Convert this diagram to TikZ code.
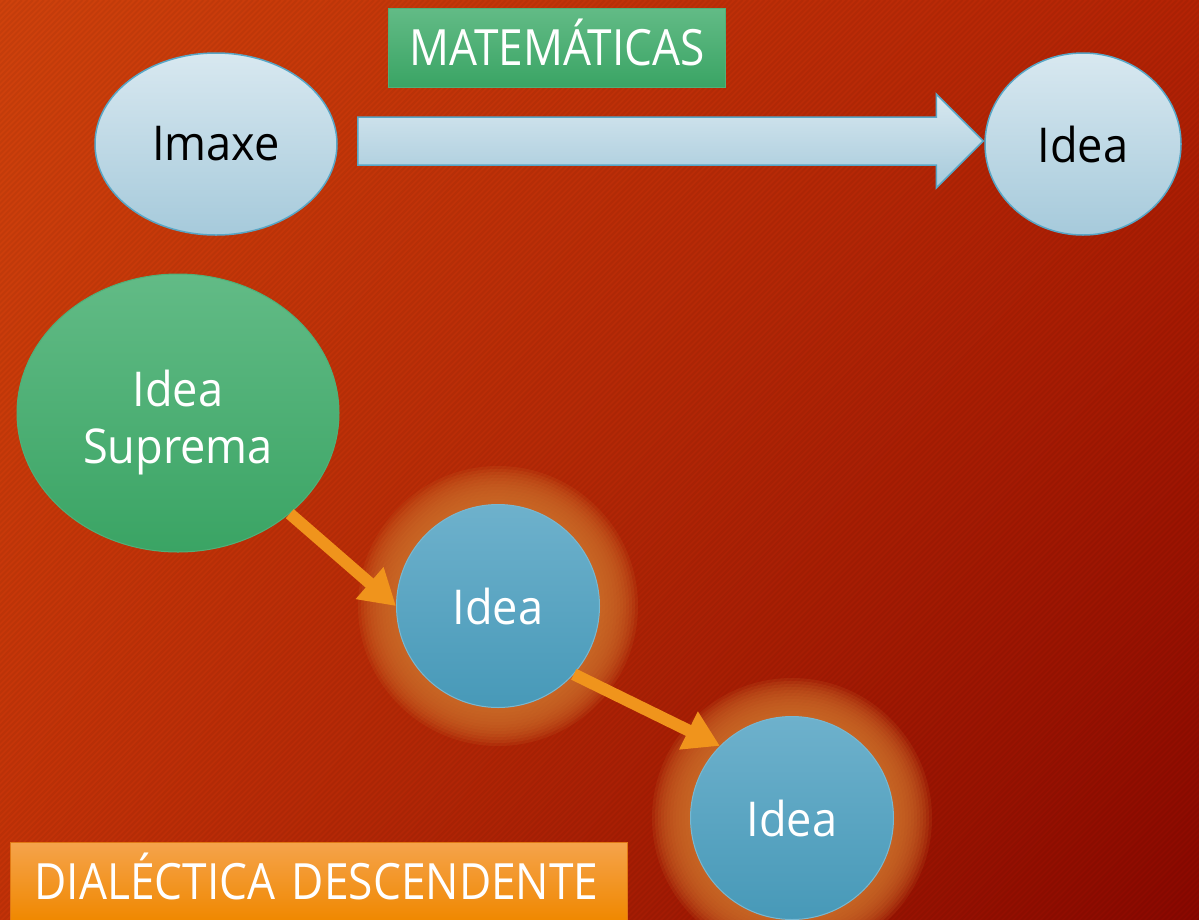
\documentclass[tikz,border=0pt]{standalone}
\usepackage{fontspec}
\setmainfont{Open Sans}
\newfontfamily\bodyfont[FakeStretch=0.94]{Open Sans}
\newfontfamily\capfont[FakeStretch=0.885]{Open Sans}
\usetikzlibrary{shapes.geometric,arrows.meta,calc,shadings}
\definecolor{bgUL}{RGB}{207,66,12}
\definecolor{bgUR}{RGB}{180,35,5}
\definecolor{bgLL}{RGB}{195,50,8}
\definecolor{bgLR}{RGB}{138,8,0}
\definecolor{ltblueT}{RGB}{216,232,240}
\definecolor{ltblueB}{RGB}{166,202,219}
\definecolor{blueline}{RGB}{88,166,198}
\definecolor{greenT}{RGB}{98,187,134}
\definecolor{greenB}{RGB}{58,164,100}
\definecolor{greenline}{RGB}{80,176,120}
\definecolor{blueT}{RGB}{110,177,204}
\definecolor{blueB}{RGB}{71,153,184}
\definecolor{arrowor}{RGB}{240,148,28}
\definecolor{glowcol}{RGB}{205,110,42}
\definecolor{orT}{RGB}{245,163,75}
\definecolor{orB}{RGB}{240,136,0}
\definecolor{orline}{RGB}{226,120,20}
\tikzset{
  lightnode/.style={ellipse, inner sep=0pt, top color=ltblueT, bottom color=ltblueB,
    draw=blueline, line width=1.5pt, text=black, font=\bodyfont\fontsize{48}{58}\selectfont},
  greennode/.style={ellipse, inner sep=0pt, top color=greenT, bottom color=greenB,
    draw=greenline, line width=1pt, text=white, align=center,
    font=\bodyfont\fontsize{48}{57}\selectfont},
  bluenode/.style={circle, inner sep=0pt, minimum size=203pt, top color=blueT, bottom color=blueB,
    draw=blueline!80!white, line width=1pt, text=white, font=\bodyfont\fontsize{48}{58}\selectfont},
  glowring/.style={fill=glowcol, fill opacity=0.16},
  stripe/.style={draw=black, draw opacity=0.05, line width=2pt},
  conn/.style={draw=arrowor, line width=12pt, -{Triangle[length=35pt,width=40pt]}},
  bigarrow/.style={top color=ltblueT, bottom color=ltblueB, draw=blueline, line width=1.5pt},
  captiongreen/.style={anchor=north west, inner sep=0pt, minimum width=337pt, minimum height=79pt,
    text depth=12pt,
    top color=greenT, bottom color=greenB, draw=greenline, line width=1pt, text=white,
    font=\capfont\fontsize{50}{60}\selectfont},
  captionorange/.style={anchor=north west, inner ysep=0pt, inner xsep=24pt, text width=569pt,
    align=left, minimum height=78pt, text depth=10pt,
    top color=orT, bottom color=orB, draw=orline, line width=1pt, text=white,
    font=\capfont\fontsize{50}{60}\selectfont}
}
\begin{document}
\begin{tikzpicture}[x=1pt,y=-1pt]
\useasboundingbox (0,0) rectangle (1199,919);
\clip (0,0) rectangle (1199,919);
% background
\shade[upper left=bgUL, upper right=bgUR, lower left=bgLL, lower right=bgLR] (0,0) rectangle (1199,919);
\foreach \x in {-925,-919.5,...,1205} {\draw[stripe] (\x,925) -- (\x+925,0);}
% positions
\coordinate (c2) at (498,606);
\coordinate (c3) at (792,818);
% glows
\foreach \r in {140,137,...,101} {\fill[glowring] (c2) circle (\r);}
\foreach \r in {140,137,...,101} {\fill[glowring] (c3) circle (\r);}
% nodes
\node[lightnode, minimum width=242pt, minimum height=182pt] (imaxe) at (216,144) {Imaxe};
\node[lightnode, minimum width=196pt, minimum height=182pt] (idea1) at (1083,144) {Idea};
\node[greennode, minimum width=322pt, minimum height=278pt] (suprema) at (178,413) {\rule{0pt}{56pt}Idea\\Suprema};
\node[bluenode] (idea2) at (c2) {Idea};
\node[bluenode] (idea3) at (c3) {Idea};
% big arrow
\coordinate (bs) at ($(imaxe.east)+(20,-3)$);
\coordinate (bt) at ($(idea1.west)+(-1,-3)$);
\draw[bigarrow] ($(bs)+(0,-24)$) -- ($(bt)+(-47,-24)$) -- ($(bt)+(-47,-47)$) -- (bt)
  -- ($(bt)+(-47,47)$) -- ($(bt)+(-47,24)$) -- ($(bs)+(0,24)$) -- cycle;
% captions
\node[captiongreen] (mat) at (388,8) {MATEMÁTICAS};
\node[captionorange] (dial) at (10,842) {DIALÉCTICA DESCENDENTE};
% connectors
\draw[conn] (suprema.-42) -- (idea2.west);
\draw[conn] (idea2.-42) -- (idea3.135);
\end{tikzpicture}
\end{document}
